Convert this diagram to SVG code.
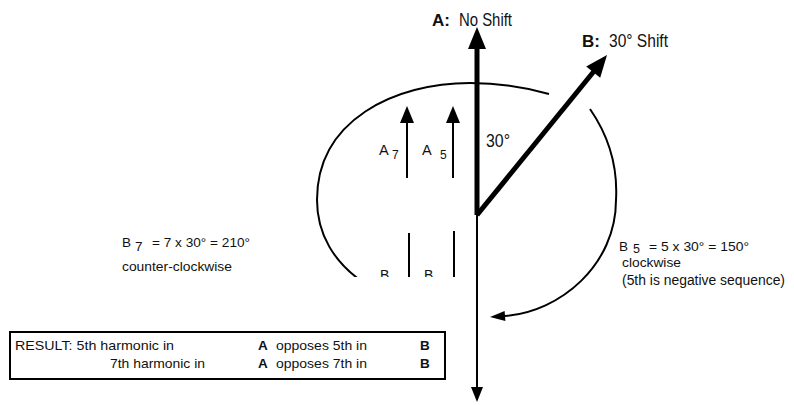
<svg xmlns="http://www.w3.org/2000/svg" width="794" height="405" viewBox="0 0 794 405">
<defs>
<style>
.t{font-family:"Liberation Sans",Arial,sans-serif;fill:#111;}
.b{font-weight:bold;}
.thick{stroke:#000;stroke-width:5;fill:none;}
.thin{stroke:#000;stroke-width:2;fill:none;}
.head{fill:#000;}
.arc{stroke:#000;stroke-width:2;fill:none;}
</style>
<marker id="curveHead" markerUnits="userSpaceOnUse" markerWidth="20" markerHeight="14" refX="0" refY="7" orient="auto" overflow="visible"><path d="M0,2 L15,7 L0,12 z" fill="#000"/></marker>
<clipPath id="cut"><rect x="0" y="0" width="794" height="277"/></clipPath>
</defs>
<rect width="794" height="405" fill="#fff"/>

<g id="connectors">
  <path id="arc-left" class="arc" clip-path="url(#cut)" d="M549,94 C525,87 500,83 470,83 C395,83 317,120 317,200 C317,235 335,262 360,280"/>
  <path id="arc-right" class="arc" marker-end="url(#curveHead)" d="M590,109 C608,135 618,165 616,200 C616,265 560,312 505,316"/>
</g>

<g id="axis-A">
  <line class="thick" x1="477" y1="47" x2="477" y2="215"/>
  <polygon class="head" points="477,27 468,49 486,49"/>
  <line class="thin" x1="477" y1="214" x2="477" y2="389"/>
  <polygon class="head" points="477,402 471,387 483,387"/>
</g>

<g id="vector-B">
  <line class="thick" x1="477" y1="215" x2="595" y2="70"/>
  <polygon class="head" points="607,55 600.2,77.8 586.2,66.4"/>
</g>

<g id="harmonics-A">
  <line class="thin" x1="407" y1="178" x2="407" y2="121"/>
  <polygon class="head" points="407,106 400,123 414,123"/>
  <line class="thin" x1="453" y1="178" x2="453" y2="121"/>
  <polygon class="head" points="453,106 446,123 460,123"/>
  <text class="t" x="379" y="155" font-size="14.5">A</text>
  <text class="t" x="392" y="159" font-size="12">7</text>
  <text class="t" x="422" y="155" font-size="14.5">A</text>
  <text class="t" x="440" y="159" font-size="12">5</text>
</g>

<g id="harmonics-B" clip-path="url(#cut)">
  <line class="thin" x1="409" y1="233" x2="409" y2="290"/>
  <line class="thin" x1="454" y1="231" x2="454" y2="290"/>
  <text class="t" x="380" y="280" font-size="14">B</text>
  <text class="t" x="394" y="286" font-size="12">7</text>
  <text class="t" x="424" y="280" font-size="14">B</text>
  <text class="t" x="440" y="286" font-size="12">5</text>
</g>

<g id="label-A">
  <text class="t b" x="432" y="26" font-size="17">A:</text>
  <text class="t" x="459" y="26" font-size="18" textLength="53" lengthAdjust="spacingAndGlyphs">No Shift</text>
</g>

<g id="label-B">
  <text class="t b" x="582" y="47" font-size="17">B:</text>
  <text class="t" x="609" y="47" font-size="18" textLength="59" lengthAdjust="spacingAndGlyphs">30° Shift</text>
</g>

<g id="label-angle">
  <text class="t" x="486" y="147" font-size="18" textLength="24" lengthAdjust="spacingAndGlyphs">30°</text>
</g>

<g id="note-B7">
  <text class="t" x="122" y="247" font-size="13.5">B</text>
  <text class="t" x="135" y="251" font-size="13.5">7</text>
  <text class="t" x="152" y="247" font-size="13.5" textLength="98" lengthAdjust="spacingAndGlyphs">= 7 x 30° = 210°</text>
  <text class="t" x="122" y="271" font-size="13.5" textLength="110" lengthAdjust="spacingAndGlyphs">counter-clockwise</text>
</g>

<g id="note-B5">
  <text class="t" x="619" y="251" font-size="13.5">B</text>
  <text class="t" x="633" y="253" font-size="12.5">5</text>
  <text class="t" x="649" y="251" font-size="13.5" textLength="100" lengthAdjust="spacingAndGlyphs">= 5 x 30° = 150°</text>
  <text class="t" x="622" y="267" font-size="13.5" textLength="59" lengthAdjust="spacingAndGlyphs">clockwise</text>
  <text class="t" x="622" y="285" font-size="14" textLength="163" lengthAdjust="spacingAndGlyphs">(5th is negative sequence)</text>
</g>

<g id="result-box">
  <rect x="10" y="332" width="435" height="47" fill="none" stroke="#000" stroke-width="2"/>
  <text class="t" x="15" y="350" font-size="13.5" textLength="159" lengthAdjust="spacingAndGlyphs">RESULT: 5th harmonic in</text>
  <text class="t b" x="258" y="350" font-size="13.5">A</text>
  <text class="t" x="276" y="350" font-size="13.5" textLength="91" lengthAdjust="spacingAndGlyphs">opposes 5th in</text>
  <text class="t b" x="420" y="350" font-size="13.5">B</text>
  <text class="t" x="110" y="368" font-size="13.5" textLength="95" lengthAdjust="spacingAndGlyphs">7th harmonic in</text>
  <text class="t b" x="258" y="368" font-size="13.5">A</text>
  <text class="t" x="276" y="368" font-size="13.5" textLength="91" lengthAdjust="spacingAndGlyphs">opposes 7th in</text>
  <text class="t b" x="420" y="368" font-size="13.5">B</text>
</g>
</svg>
